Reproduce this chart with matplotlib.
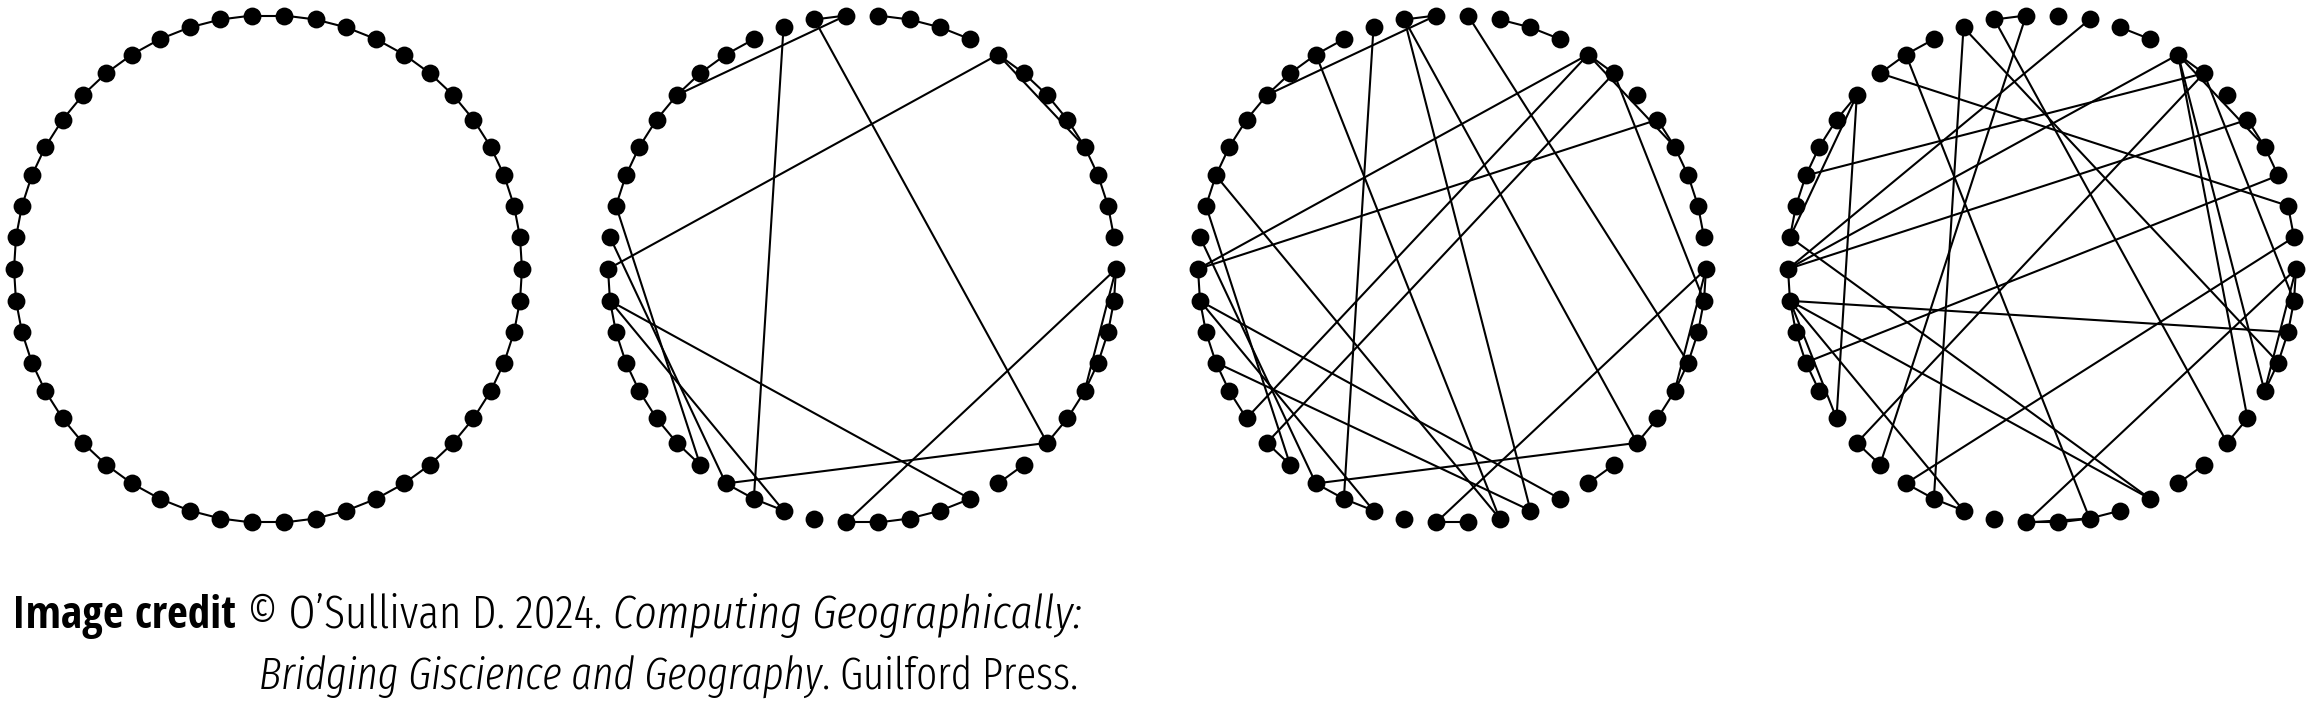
import numpy as np
import matplotlib
matplotlib.use("Agg")
import matplotlib.pyplot as plt
from matplotlib.collections import LineCollection
from matplotlib.font_manager import FontProperties

# Small-world rewiring of a 50-node ring lattice, four stages
n_nodes = 50

# ring edge (i, i+1) that is missing in each panel
ring_removed = [
    [],
    [0, 8, 12, 14, 15, 23, 24, 32, 35, 36, 41, 43],
    [0, 5, 6, 8, 11, 12, 14, 15, 23, 24, 30, 32, 35, 36, 38, 39, 40, 41, 43],
    [0, 2, 5, 6, 8, 10, 11, 12, 14, 15, 18, 24, 29, 30, 32, 35, 36, 40, 41, 43, 45],
]

# rewired long-range links in each panel
shortcuts = [
    [],
    [(0, 37), (0, 46), (8, 4), (8, 25), (13, 19), (14, 44), (15, 34),
     (23, 32), (24, 33), (26, 35), (26, 41), (33, 44)],
    [(0, 37), (0, 46), (8, 4), (5, 25), (7, 31), (7, 49), (8, 30), (8, 25),
     (12, 47), (13, 19), (14, 40), (14, 44), (15, 34), (17, 39), (22, 39),
     (23, 32), (24, 33), (26, 41), (26, 35), (28, 40), (33, 44)],
    [(0, 37), (0, 46), (8, 4), (37, 39), (8, 25), (8, 45), (8, 46), (7, 22),
     (7, 31), (7, 49), (5, 25), (11, 25), (13, 32), (14, 44), (15, 34),
     (15, 47), (17, 39), (18, 2), (19, 24), (19, 30), (24, 41), (26, 41),
     (26, 35), (26, 48), (26, 30), (28, 3), (33, 1)],
]

credit_line1 = [("Image credit", "bold"), ("© O’Sullivan D. 2024.", "normal"),
                ("Computing Geographically:", "italic")]
credit_line2 = [("Bridging Giscience and Geography", "italic"), (". Guilford Press.", "normal")]

W, H = 2312, 703
fig = plt.figure(figsize=(W / 100, H / 100), dpi=100)
ax = fig.add_axes([0, 0, 1, 1])
ax.set_xlim(0, W)
ax.set_ylim(H, 0)
ax.axis("off")

# layout of the four rings
centres_x = [268, 862, 1452, 2042]
centre_y = 269
radius = 254
angles = np.deg2rad(np.arange(n_nodes) * 360.0 / n_nodes)

for k, cx in enumerate(centres_x):
    px = cx + radius * np.cos(angles)
    py = centre_y - radius * np.sin(angles)
    edges = [(i, (i + 1) % n_nodes) for i in range(n_nodes) if i not in ring_removed[k]]
    edges += shortcuts[k]
    segs = [[(px[a], py[a]), (px[b], py[b])] for a, b in edges]
    ax.add_collection(LineCollection(segs, colors="black", linewidths=1.5, zorder=1))
    ax.scatter(px, py, s=165, c="black", linewidths=0, zorder=2)

# credit text, mixed styles
renderer = fig.canvas.get_renderer()


def props(style, size):
    if style == "bold":
        return FontProperties(family=["Open Sans Condensed", "DejaVu Sans"], weight=700, size=size)
    fp = FontProperties(family=["Fira Sans Extra Condensed", "DejaVu Sans"], weight=300, size=size)
    if style == "italic":
        fp.set_style("italic")
    return fp


def width_of(txt, style, size):
    t = ax.text(0, 0, txt, fontproperties=props(style, size))
    w = t.get_window_extent(renderer).width
    t.remove()
    return w


def runs_width(runs, sizes, gap):
    return sum(width_of(t, s, sz) for (t, s), sz in zip(runs, sizes)) + gap * (len(runs) - 1)


ref = 40
gap = 11
# bold label sized to its width in the picture, the rest fitted to each line's width
bold_size = ref * 224 / width_of("Image credit", "bold", ref)
size1 = ref * (1069 - 224 - gap) / runs_width(credit_line1[1:], [ref, ref], gap)
size2 = ref * 819 / runs_width(credit_line2, [ref, ref], 0)


def draw_runs(runs, sizes, x, y, gap, align="left"):
    if align == "right":
        x = x - runs_width(runs, sizes, gap)
    for (txt, style), sz in zip(runs, sizes):
        t = ax.text(x, y, txt, fontproperties=props(style, sz), va="baseline", ha="left")
        x += t.get_window_extent(renderer).width + gap


draw_runs(credit_line1, [bold_size, size1, size1], 12, 628, gap)
draw_runs(credit_line2, [size2, size2], 1078, 690, 0, align="right")

fig.savefig("out.png", dpi=100)
